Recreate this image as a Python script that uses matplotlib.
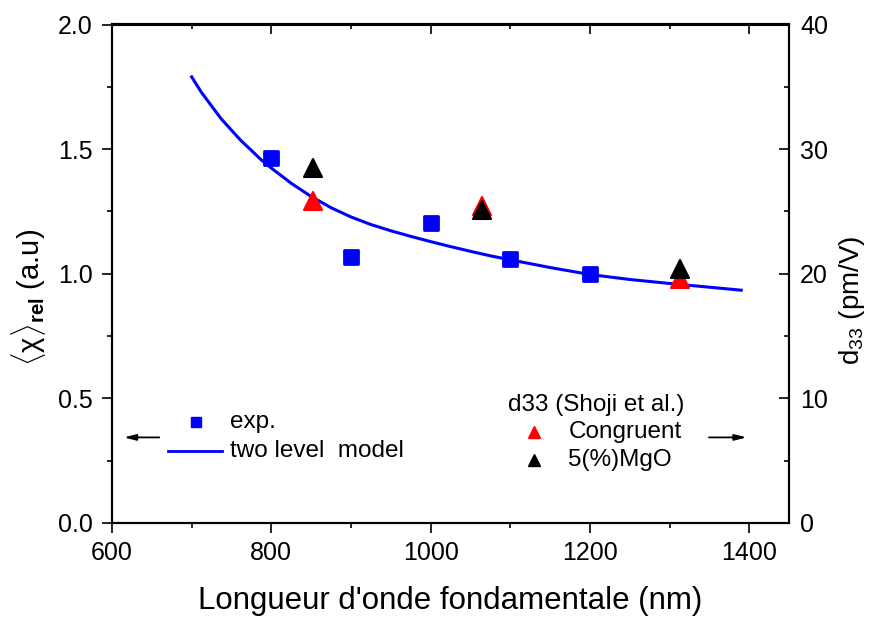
import matplotlib
matplotlib.use("Agg")
import matplotlib.pyplot as plt
from matplotlib.ticker import MultipleLocator, FormatStrFormatter
from matplotlib.markers import MarkerStyle

plt.rcParams['font.family'] = ['Liberation Sans', 'DejaVu Sans']
plt.rcParams['mathtext.fontset'] = 'custom'
plt.rcParams['mathtext.rm'] = 'Liberation Sans'
plt.rcParams['mathtext.it'] = 'Liberation Sans'
plt.rcParams['mathtext.bf'] = 'Liberation Sans:bold'

# experimental data (left axis)
exp_wl = [800, 900, 1000, 1100, 1200]
exp_chi = [1.466, 1.066, 1.204, 1.061, 0.998]

# two-level model curve (left axis)
model_wl = [700, 712, 725, 737, 750, 762, 775, 787, 800, 825, 850, 875, 900, 925,
            950, 975, 1000, 1025, 1050, 1075, 1100, 1150, 1200, 1250, 1300, 1350, 1390]
model_chi = [1.790, 1.729, 1.673, 1.622, 1.576, 1.534, 1.495, 1.458, 1.424, 1.363,
             1.310, 1.265, 1.228, 1.1975, 1.1725, 1.150, 1.129, 1.109, 1.090, 1.072,
             1.056, 1.025, 0.997, 0.977, 0.961, 0.946, 0.934]

# Shoji et al. d33 (right axis, pm/V)
shoji_wl = [852, 1064, 1313]
d33_congruent = [25.8, 25.4, 19.6]
d33_mgo = [28.5, 25.1, 20.4]

fig = plt.figure(figsize=(8.77, 6.19), dpi=100)
ax = fig.add_axes([112/877, 1-523/619, 677/877, 498.5/619])
ax2 = ax.twinx()

blue = (0, 0, 1)
red = (1, 0, 0)
sq = MarkerStyle('s', joinstyle='round')
tri = MarkerStyle('^', joinstyle='round')

ax.plot(model_wl, model_chi, color=blue, lw=2.2, zorder=2)
ax.plot(exp_wl, exp_chi, ls='none', marker=sq, ms=10.5, mfc=blue, mec=blue,
        mew=2, zorder=3)
ax2.plot(shoji_wl, d33_congruent, ls='none', marker=tri, ms=12.5, mfc=red, mec=red,
         mew=1.5, zorder=3)
ax2.plot(shoji_wl, d33_mgo, ls='none', marker=tri, ms=12.5, mfc='black', mec='black',
         mew=1.5, zorder=4)

ax.set_xlim(600, 1450)
ax.set_ylim(0, 2.0)
ax2.set_ylim(0, 40)

ax.xaxis.set_major_locator(MultipleLocator(200))
ax.xaxis.set_minor_locator(MultipleLocator(100))
ax.yaxis.set_major_locator(MultipleLocator(0.5))
ax.yaxis.set_minor_locator(MultipleLocator(0.25))
ax2.yaxis.set_major_locator(MultipleLocator(10))
ax2.yaxis.set_minor_locator(MultipleLocator(5))
ax.yaxis.set_major_formatter(FormatStrFormatter('%.1f'))

for a in (ax, ax2):
    for s in a.spines.values():
        s.set_linewidth(1.5)

ax.tick_params(axis='both', which='major', direction='out', length=7, width=1.2,
               labelsize=18)
ax.tick_params(axis='y', which='major', pad=7)
ax.tick_params(axis='x', which='major', pad=6)
ax.tick_params(axis='both', which='minor', direction='out', length=3.5, width=1.2)
ax.tick_params(axis='x', top=False)
ax2.tick_params(axis='y', which='major', direction='in', length=7, width=1.2,
                labelsize=18, pad=8)
ax2.tick_params(axis='y', which='minor', direction='in', length=3.5, width=1.2)

secx = ax.secondary_xaxis('top')
secx.xaxis.set_major_locator(MultipleLocator(200))
secx.xaxis.set_minor_locator(MultipleLocator(100))
secx.tick_params(which='major', direction='in', length=7, width=1.2, labeltop=False)
secx.tick_params(which='minor', direction='in', length=3.5, width=1.2)
secx.spines['top'].set_linewidth(1.5)

fig.text(450/877, 1-601/619, "Longueur d'onde fondamentale (nm)", fontsize=22.5,
         ha='center', va='center')
fig.text(29/877, 1-297/619, r'$\langle\chi\rangle_{\mathbf{rel}}$ (a.u)', fontsize=21,
         rotation=90, ha='center', va='center', rotation_mode='anchor')
fig.text(852/877, 1-300/619, r'd$_{33}$ (pm/V)', fontsize=20,
         rotation=90, ha='center', va='center', rotation_mode='anchor')

# legend 1
tr = ax.transAxes
ax.plot([0.124], [0.2026], transform=tr, marker='s', ms=6.5, color=blue, ls='none',
        clip_on=False)
ax.text(0.174, 0.2026, 'exp.', transform=tr, fontsize=17.5, va='center', ha='left')
ax.plot([0.083, 0.163], [0.1444, 0.1444], transform=tr, color=blue, lw=2, clip_on=False)
ax.text(0.174, 0.1444, 'two level  model', transform=tr, fontsize=17.5, va='center', ha='left')

# legend 2
ax.text(0.585, 0.2367, 'd33 (Shoji et al.)', transform=tr, fontsize=17.5, va='center', ha='left')
ax.plot([0.624], [0.183], transform=tr, marker='^', ms=9, color=red, ls='none', clip_on=False)
ax.text(0.674, 0.183, 'Congruent', transform=tr, fontsize=17.5, va='center', ha='left')
ax.plot([0.624], [0.126], transform=tr, marker='^', ms=9, color='black', ls='none', clip_on=False)
ax.text(0.674, 0.126, '5(%)MgO', transform=tr, fontsize=17.5, va='center', ha='left')

# arrows
ax.annotate('', xy=(0.0177, 0.1717), xytext=(0.0698, 0.1717), xycoords=tr,
            arrowprops=dict(arrowstyle='-|>,head_length=0.7,head_width=0.18',
                            color='black', lw=1.3, shrinkA=0, shrinkB=0))
ax.annotate('', xy=(0.9373, 0.1717), xytext=(0.8818, 0.1717), xycoords=tr,
            arrowprops=dict(arrowstyle='-|>,head_length=0.7,head_width=0.18',
                            color='black', lw=1.3, shrinkA=0, shrinkB=0))

fig.savefig('out.png', dpi=100)
